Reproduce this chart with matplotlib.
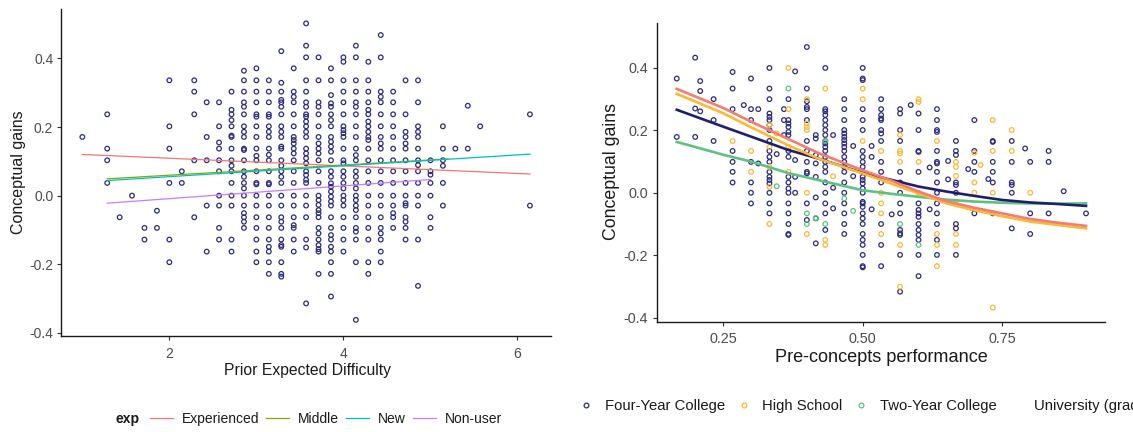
import matplotlib
matplotlib.use("Agg")
import matplotlib.pyplot as plt
from matplotlib.lines import Line2D

plt.rcParams['font.family'] = ['Liberation Sans', 'DejaVu Sans']

# ---------------- Left panel data ----------------
left_col_x = [1.0, 1.286, 1.429, 1.571, 1.714, 1.857, 2.0, 2.143, 2.286, 2.429, 2.571,
              2.714, 2.857, 3.0, 3.143, 3.286, 3.429, 3.571, 3.714, 3.857, 4.0, 4.143,
              4.286, 4.429, 4.571, 4.714, 4.857, 5.0, 5.143, 5.286, 5.429, 5.571, 6.143]
left_col_y = [
    [0.171],
    [0.237, 0.137, 0.103, 0.037],
    [-0.063],
    [0.0],
    [-0.094, -0.128],
    [-0.044, -0.094],
    [0.336, 0.202, 0.137, 0.037, -0.128, -0.194],
    [0.071, 0.037],
    [0.336, 0.303, 0.237, 0.103, -0.063],
    [0.272, 0.171, 0.103, -0.029, -0.163],
    [0.272, 0.202, 0.155, 0.137, 0.103, 0.071, 0.0, -0.029, -0.094, -0.128],
    [0.303, 0.250, 0.237, 0.220, 0.202, 0.175, 0.171, 0.137, 0.103, 0.087, 0.071, 0.037,
     0.0, -0.029, -0.128, -0.163],
    [0.364, 0.336, 0.303, 0.272, 0.259, 0.237, 0.202, 0.186, 0.171, 0.137, 0.133, 0.103,
     0.071, 0.055, 0.037, 0.021, 0.0, -0.029, -0.051, -0.063, -0.076, -0.094],
    [0.371, 0.336, 0.303, 0.272, 0.237, 0.230, 0.202, 0.171, 0.137, 0.116, 0.103, 0.071,
     0.037, 0.033, 0.0, -0.029, -0.063, -0.094, -0.128, -0.163, -0.194],
    [0.336, 0.303, 0.272, 0.237, 0.230, 0.202, 0.186, 0.171, 0.137, 0.119, 0.103, 0.071,
     0.037, 0.033, 0.0, -0.029, -0.063, -0.094, -0.128, -0.149, -0.163, -0.194, -0.228],
    [0.421, 0.329, 0.303, 0.279, 0.272, 0.259, 0.237, 0.202, 0.186, 0.171, 0.143, 0.137,
     0.103, 0.087, 0.071, 0.055, 0.037, 0.0, -0.029, -0.063, -0.076, -0.094, -0.128,
     -0.144, -0.149, -0.194, -0.228, -0.236],
    [0.371, 0.303, 0.288, 0.272, 0.237, 0.202, 0.171, 0.162, 0.152, 0.137, 0.123, 0.103,
     0.071, 0.037, 0.0, -0.029, -0.063, -0.086, -0.094, -0.128, -0.163],
    [0.502, 0.437, 0.403, 0.336, 0.303, 0.272, 0.259, 0.237, 0.230, 0.216, 0.202, 0.186,
     0.171, 0.137, 0.123, 0.109, 0.094, 0.071, 0.060, 0.046, 0.037, 0.0, -0.029, -0.063,
     -0.128, -0.151, -0.314],
    [0.403, 0.336, 0.272, 0.259, 0.237, 0.202, 0.171, 0.152, 0.137, 0.123, 0.103, 0.071,
     0.037, 0.0, -0.013, -0.027, -0.042, -0.051, -0.063, -0.094, -0.110, -0.128, -0.144,
     -0.156, -0.163, -0.228],
    [0.371, 0.336, 0.293, 0.269, 0.259, 0.237, 0.220, 0.202, 0.171, 0.157, 0.143, 0.128,
     0.103, 0.071, 0.055, 0.036, 0.026, 0.012, -0.003, -0.017, -0.029, -0.063, -0.094,
     -0.115, -0.128, -0.149, -0.163, -0.194, -0.228, -0.294],
    [0.403, 0.390, 0.336, 0.303, 0.272, 0.237, 0.202, 0.191, 0.182, 0.171, 0.137, 0.103,
     0.094, 0.071, 0.055, 0.037, 0.021, 0.0, -0.013, -0.029, -0.063, -0.094, -0.128, -0.163],
    [0.437, 0.403, 0.336, 0.303, 0.272, 0.259, 0.237, 0.202, 0.171, 0.137, 0.118, 0.103,
     0.071, 0.055, 0.037, 0.021, 0.0, -0.013, -0.029, -0.042, -0.063, -0.094, -0.105,
     -0.128, -0.194, -0.362],
    [0.390, 0.336, 0.303, 0.272, 0.250, 0.237, 0.216, 0.202, 0.186, 0.171, 0.162, 0.137,
     0.103, 0.071, 0.037, 0.0, -0.029, -0.063, -0.094, -0.128, -0.194, -0.228],
    [0.468, 0.403, 0.303, 0.288, 0.272, 0.237, 0.202, 0.171, 0.152, 0.137, 0.103, 0.071,
     0.037, 0.0, -0.029, -0.063, -0.094, -0.110, -0.128, -0.163, -0.194],
    [0.303, 0.272, 0.237, 0.202, 0.171, 0.137, 0.103, 0.071, 0.037, 0.0, -0.029, -0.051,
     -0.063, -0.094],
    [0.336, 0.237, 0.186, 0.171, 0.152, 0.137, 0.103, 0.071, 0.037, 0.0, -0.022, -0.029,
     -0.063, -0.076, -0.094, -0.128],
    [0.336, 0.272, 0.202, 0.186, 0.171, 0.137, 0.103, 0.089, 0.071, 0.037, 0.0, -0.029,
     -0.128, -0.263],
    [0.103, 0.071, 0.061, 0.037, 0.0, -0.063, -0.094],
    [0.202, 0.137, 0.103, 0.087, 0.037, -0.029],
    [0.137],
    [0.262, 0.137],
    [0.202],
    [0.237, -0.029],
]

exp_groups = ['Experienced', 'Middle', 'New', 'Non-user']
exp_colors = ['#F8766D', '#7CAE00', '#00BFC4', '#C77CFF']
exp_line_x = [[1.0, 6.143], [1.286, 5.2], [1.286, 6.143], [1.286, 5.0]]
exp_line_y = [[0.120, 0.063], [0.049, 0.107], [0.044, 0.121], [-0.022, 0.047]]

left_xticks = [2, 4, 6]
left_yticks = [-0.4, -0.2, 0.0, 0.2, 0.4]

# ---------------- Right panel data ----------------
four_col_x = [0.167, 0.2, 0.209, 0.233, 0.267, 0.287, 0.3, 0.313, 0.333, 0.346, 0.359,
              0.367, 0.379, 0.4, 0.416, 0.433, 0.447, 0.467, 0.483, 0.5, 0.516, 0.533,
              0.552, 0.567, 0.586, 0.6, 0.62, 0.633, 0.653, 0.667, 0.689, 0.7, 0.725,
              0.733, 0.767, 0.791, 0.8, 0.833, 0.86, 0.9]
four_col_y = [
    [0.366, 0.179],
    [0.433, 0.270, 0.179],
    [0.358, 0.326, 0.261],
    [0.300, 0.233, 0.166],
    [0.387, 0.334, 0.268, 0.134, 0.099, 0.067, 0.033],
    [0.281],
    [0.366, 0.268, 0.233, 0.099, 0.033, 0.000, -0.034],
    [0.268, 0.094],
    [0.400, 0.334, 0.300, 0.254, 0.243, 0.233, 0.217, 0.201, 0.166, 0.134, 0.115, 0.099,
     0.067, 0.051, 0.041, 0.030, 0.000, -0.034, -0.066],
    [0.124],
    [0.268, 0.233, 0.185],
    [0.300, 0.233, 0.222, 0.211, 0.195, 0.185, 0.134, 0.115, 0.051, 0.033, 0.014, 0.000,
     -0.034, -0.066, -0.100, -0.132, -0.135],
    [0.389, 0.105, 0.051, 0.000],
    [0.467, 0.334, 0.293, 0.275, 0.268, 0.233, 0.166, 0.134, 0.099, 0.067, 0.062, -0.034,
     -0.087],
    [0.185, 0.174, 0.121, 0.094, 0.051, -0.015, -0.082, -0.162],
    [0.400, 0.268, 0.261, 0.249, 0.233, 0.217, 0.201, 0.185, 0.166, 0.158, 0.147, 0.134,
     0.115, 0.099, 0.083, 0.067, 0.033, 0.000, -0.034, -0.066, -0.119],
    [0.185, 0.016, -0.050],
    [0.300, 0.268, 0.233, 0.201, 0.190, 0.179, 0.169, 0.158, 0.147, 0.134, 0.115, 0.099,
     0.083, 0.067, 0.033, 0.000, -0.034, -0.066, -0.100, -0.132],
    [0.150, 0.053],
    [0.400, 0.366, 0.361, 0.268, 0.233, 0.201, 0.134, 0.115, 0.099, 0.083, 0.067, 0.051,
     0.041, 0.030, 0.014, 0.000, -0.029, -0.034, -0.045, -0.066, -0.082, -0.100, -0.132,
     -0.151, -0.167, -0.199, -0.235, -0.239],
    [0.150, 0.115, -0.053],
    [0.300, 0.268, 0.249, 0.238, 0.233, 0.201, 0.190, 0.166, 0.099, 0.067, 0.033, -0.100,
     -0.167, -0.235],
    [-0.069],
    [0.268, 0.254, 0.201, 0.166, 0.067, 0.033, 0.000, -0.034, -0.066, -0.119, -0.130,
     -0.135, -0.199, -0.317],
    [0.281],
    [0.254, 0.201, 0.134, 0.131, 0.067, -0.034, -0.055, -0.066, -0.077, -0.100, -0.119,
     -0.135, -0.151, -0.199, -0.267],
    [0.081, -0.053],
    [0.268, 0.233, 0.201, 0.195, 0.134, 0.099, 0.094, 0.067, 0.033, 0.000, -0.034, -0.066,
     -0.100, -0.151, -0.199],
    [0.102, 0.043],
    [0.166, 0.134, 0.121, 0.033, 0.025, 0.000, -0.100, -0.114, -0.199],
    [0.076],
    [0.233, 0.134, 0.099, 0.067, -0.066],
    [0.044],
    [0.166, 0.163, 0.099, 0.067, 0.033, -0.066],
    [0.166, 0.099, 0.033, 0.025, 0.000, -0.114],
    [0.142],
    [0.099, -0.066, -0.132],
    [0.134, 0.099, -0.066],
    [0.005],
    [-0.066],
]

hs_col_x = [0.267, 0.3, 0.333, 0.346, 0.367, 0.4, 0.433, 0.447, 0.5, 0.533, 0.567, 0.6,
            0.633, 0.667, 0.7, 0.711, 0.733, 0.767, 0.8]
hs_col_y = [
    [0.166],
    [0.134, 0.067],
    [0.217, 0.147, 0.083, 0.019, -0.100],
    [0.190],
    [0.400, 0.268, 0.147, 0.067],
    [0.300, 0.222, 0.211, 0.201, 0.000, -0.132],
    [0.334, -0.151, -0.167],
    [0.053],
    [0.334, 0.300, 0.166],
    [0.134, 0.000, -0.034, -0.066, -0.132],
    [0.185, 0.134, 0.126, 0.099, -0.167, -0.301],
    [0.300, 0.291, 0.099, 0.000],
    [0.166, -0.132, -0.167, -0.235],
    [0.099, 0.083, 0.054, -0.034, -0.132, -0.167],
    [0.128, 0.033, 0.000],
    [0.089],
    [0.233, 0.134, 0.000, -0.368],
    [0.201, 0.134],
    [0.000],
]

two_x = [0.346, 0.367, 0.4, 0.4, 0.416, 0.433, 0.433, 0.467, 0.483, 0.567, 0.6]
two_y = [0.021, 0.334, -0.066, -0.100, -0.081, -0.100, 0.166, -0.018, -0.058, -0.100, -0.167]

curve_x = [0.167, 0.25, 0.30, 0.367, 0.42, 0.5, 0.55, 0.6, 0.65, 0.7, 0.75, 0.8, 0.85, 0.9]
curve_univ = [0.333, 0.272, 0.228, 0.172, 0.128, 0.072, 0.040, 0.004, -0.027, -0.048,
              -0.066, -0.084, -0.096, -0.106]
curve_hs = [0.317, 0.255, 0.210, 0.152, 0.110, 0.062, 0.030, -0.002, -0.034, -0.056,
            -0.075, -0.092, -0.103, -0.114]
curve_four = [0.266, 0.212, 0.180, 0.137, 0.110, 0.064, 0.042, 0.020, 0.004, -0.010,
              -0.023, -0.031, -0.036, -0.042]
curve_two = [0.163, 0.122, 0.100, 0.063, 0.041, 0.008, -0.003, -0.013, -0.022, -0.028,
             -0.032, -0.034, -0.035, -0.034]

inst_groups = ['Four-Year College', 'High School', 'Two-Year College', 'University (graduate)']
right_xticks = [0.25, 0.50, 0.75]
right_xticklabels = ['0.25', '0.50', '0.75']
right_yticks = [-0.4, -0.2, 0.0, 0.2, 0.4]

NAVY_PT = '#2b2b84'
NAVY_LN = '#1f1f70'
ORANGE = '#FDB833'
GREEN = '#5CC27E'
SALMON = '#F47C70'

W, H = 1133, 432
fig = plt.figure(figsize=(W / 100, H / 100), dpi=100)


def style_axes(ax, fs):
    for s in ['top', 'right']:
        ax.spines[s].set_visible(False)
    for s in ['left', 'bottom']:
        ax.spines[s].set_color('#1a1a1a')
        ax.spines[s].set_linewidth(1.0)
    ax.tick_params(length=3, width=0.8, color='#333333', labelcolor='#4d4d4d',
                   labelsize=fs, pad=2.5)


# ---------------- Left panel ----------------
L0, R0, T0, B0 = 61, 551, 9.3, 336
ax1 = fig.add_axes([L0 / W, 1 - B0 / H, (R0 - L0) / W, (B0 - T0) / H])
for cx, cys in zip(left_col_x, left_col_y):
    ax1.scatter([cx] * len(cys), cys, s=11, facecolors='none', edgecolors=NAVY_PT,
                linewidths=0.9, zorder=2)
line_handles = []
for g, c, lx, ly in zip(exp_groups, exp_colors, exp_line_x, exp_line_y):
    h, = ax1.plot(lx, ly, color=c, lw=0.9, zorder=3, label=g)
    line_handles.append(h)
ax1.set_xlim(0.755, 6.385)
ax1.set_ylim(-0.409, 0.543)
ax1.set_xticks(left_xticks)
ax1.set_xticklabels([str(t) for t in left_xticks])
ax1.set_yticks(left_yticks)
ax1.set_yticklabels(['%.1f' % t for t in left_yticks])
style_axes(ax1, 10)
ax1.tick_params(axis='x', pad=5)
ax1.set_xlabel('Prior Expected Difficulty', fontsize=11.3, color='#1a1a1a', va='center')
ax1.xaxis.set_label_coords((307 - L0) / (R0 - L0), (B0 - 370.7) / (B0 - T0))
ax1.set_ylabel('Conceptual gains', fontsize=11.5, color='#1a1a1a', va='center', ha='center')
ax1.yaxis.set_label_coords((18.3 - L0) / (R0 - L0), (B0 - 172) / (B0 - T0))

fig.text(115.6 / W, 1 - 419 / H, 'exp', fontsize=10, fontweight='bold',
         color='#1a1a1a', ha='left', va='center')
fig.legend(handles=line_handles, labels=exp_groups, loc='center left',
           bbox_to_anchor=(150 / W, 1 - 419 / H), bbox_transform=fig.transFigure,
           ncol=4, frameon=False, fontsize=10, handlelength=1.65, handletextpad=0.65,
           columnspacing=0.5, borderpad=0, borderaxespad=0, labelcolor='#1a1a1a')

# ---------------- Right panel ----------------
L1, R1, T1, B1 = 657, 1105, 23.3, 321.7
ax2 = fig.add_axes([L1 / W, 1 - B1 / H, (R1 - L1) / W, (B1 - T1) / H])
for cx, cys in zip(four_col_x, four_col_y):
    ax2.scatter([cx] * len(cys), cys, s=11, facecolors='none', edgecolors=NAVY_PT,
                linewidths=0.9, zorder=2)
for cx, cys in zip(hs_col_x, hs_col_y):
    ax2.scatter([cx] * len(cys), cys, s=11, facecolors='none', edgecolors=ORANGE,
                linewidths=0.9, zorder=2)
ax2.scatter(two_x, two_y, s=11, facecolors='none', edgecolors=GREEN, linewidths=0.9, zorder=2)

ax2.plot(curve_x, curve_two, color=GREEN, lw=1.9, zorder=3)
ax2.plot(curve_x, curve_four, color=NAVY_LN, lw=1.9, zorder=3)
ax2.plot(curve_x, curve_hs, color=ORANGE, lw=1.9, zorder=3)
ax2.plot(curve_x, curve_univ, color=SALMON, lw=1.9, zorder=3)

ax2.set_xlim(0.1316, 0.934)
ax2.set_ylim(-0.413, 0.543)
ax2.set_xticks(right_xticks)
ax2.set_xticklabels(right_xticklabels)
ax2.set_yticks(right_yticks)
ax2.set_yticklabels(['%.1f' % t for t in right_yticks])
style_axes(ax2, 10.4)
ax2.tick_params(axis='x', pad=4.5)
ax2.tick_params(axis='y', pad=3.5)
ax2.set_xlabel('Pre-concepts performance', fontsize=13.1, color='#1a1a1a', va='center')
ax2.xaxis.set_label_coords((881.7 - L1) / (R1 - L1), (B1 - 358) / (B1 - T1))
ax2.set_ylabel('Conceptual gains', fontsize=12.8, color='#1a1a1a', va='center', ha='center')
ax2.yaxis.set_label_coords((611.6 - L1) / (R1 - L1), (B1 - 172) / (B1 - T1))

mk = dict(marker='o', linestyle='none', markersize=3.4, markerfacecolor='none',
          markeredgewidth=0.9)
inst_handles = [Line2D([], [], markeredgecolor=NAVY_PT, **mk),
                Line2D([], [], markeredgecolor=ORANGE, **mk),
                Line2D([], [], markeredgecolor=GREEN, **mk),
                Line2D([], [], markeredgecolor='none', **mk)]
fig.legend(handles=inst_handles, labels=inst_groups, loc='center left',
           bbox_to_anchor=(579 / W, 1 - 406 / H), bbox_transform=fig.transFigure,
           ncol=4, frameon=False, fontsize=10.7, handlelength=1.0, handletextpad=0.74,
           columnspacing=0.77, borderpad=0, borderaxespad=0, labelcolor='#1a1a1a')

fig.savefig('out.png', dpi=100)
